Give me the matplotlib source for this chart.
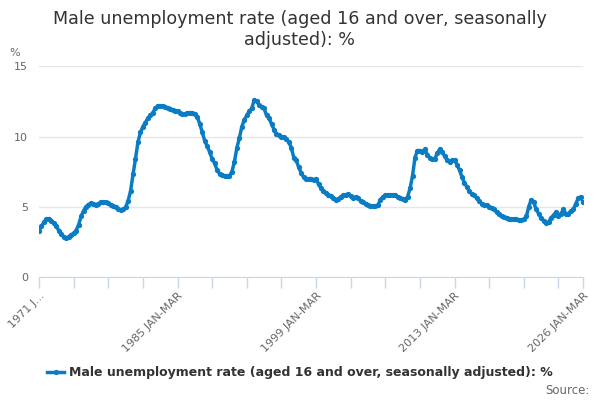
'''Male unemployment rate (aged 16 and over, seasonally adjusted), 1971-2026.'''

import numpy as np
import matplotlib
matplotlib.use('Agg')
import matplotlib.pyplot as plt

# Quarterly readings (JAN-MAR, APR-JUN, JUL-SEP, OCT-DEC), 1971 JAN-MAR .. 2026 JAN-MAR
rate = [
    3.3, 3.6, 3.9, 4.1,        # 1971
    4.15, 4.0, 3.8, 3.6,       # 1972
    3.3, 3.05, 2.85, 2.75,     # 1973
    2.85, 3.0, 3.1, 3.3,       # 1974
    3.7, 4.3, 4.7, 5.0,        # 1975
    5.15, 5.25, 5.2, 5.15,     # 1976
    5.2, 5.35, 5.35, 5.3,      # 1977
    5.25, 5.15, 5.05, 4.95,    # 1978
    4.85, 4.75, 4.8, 4.95,     # 1979
    5.4, 6.1, 7.3, 8.4,        # 1980
    9.6, 10.3, 10.7, 11.0,     # 1981
    11.3, 11.5, 11.7, 12.0,    # 1982
    12.2, 12.2, 12.15, 12.1,   # 1983
    12.0, 11.95, 11.9, 11.85,  # 1984
    11.8, 11.7, 11.6, 11.6,    # 1985
    11.7, 11.7, 11.7, 11.6,    # 1986
    11.4, 10.9, 10.3, 9.7,     # 1987
    9.3, 8.9, 8.4, 8.1,        # 1988
    7.6, 7.35, 7.25, 7.2,      # 1989
    7.2, 7.2, 7.5, 8.2,        # 1990
    9.2, 9.9, 10.7, 11.2,      # 1991
    11.5, 11.8, 12.0, 12.6,    # 1992
    12.5, 12.25, 12.1, 12.0,   # 1993
    11.5, 11.3, 10.9, 10.5,    # 1994
    10.2, 10.1, 10.0, 9.95,    # 1995
    9.8, 9.6, 9.2, 8.5,        # 1996
    8.3, 7.8, 7.4, 7.1,        # 1997
    7.0, 7.0, 7.0, 6.9,        # 1998
    7.0, 6.6, 6.3, 6.1,        # 1999
    6.0, 5.85, 5.75, 5.6,      # 2000
    5.5, 5.55, 5.7, 5.8,       # 2001
    5.85, 5.9, 5.75, 5.6,      # 2002
    5.7, 5.6, 5.4, 5.3,        # 2003
    5.2, 5.1, 5.05, 5.05,      # 2004
    5.05, 5.1, 5.5, 5.7,       # 2005
    5.8, 5.85, 5.85, 5.85,     # 2006
    5.85, 5.7, 5.65, 5.55,     # 2007
    5.5, 5.7, 6.3, 7.2,        # 2008
    8.5, 9.0, 9.0, 8.9,        # 2009
    9.1, 8.7, 8.5, 8.4,        # 2010
    8.4, 8.8, 9.1, 8.9,        # 2011
    8.6, 8.3, 8.2, 8.3,        # 2012
    8.3, 8.0, 7.6, 7.1,        # 2013
    6.7, 6.4, 6.1, 5.9,        # 2014
    5.8, 5.6, 5.4, 5.2,        # 2015
    5.15, 5.1, 5.0, 4.9,       # 2016
    4.8, 4.6, 4.45, 4.3,       # 2017
    4.25, 4.2, 4.15, 4.1,      # 2018
    4.1, 4.1, 4.05, 4.05,      # 2019
    4.1, 4.3, 5.0, 5.5,        # 2020
    5.3, 4.8, 4.5, 4.2,        # 2021
    4.0, 3.85, 3.9, 4.2,       # 2022
    4.4, 4.6, 4.3, 4.5,        # 2023
    4.8, 4.5, 4.5, 4.7,        # 2024
    4.8, 5.2, 5.6, 5.7,        # 2025
    5.3,                       # 2026
]

# Tick labels on the monthly (rolling quarter) category axis
tick_labels = ['1971 J...', '1985 JAN-MAR', '1999 JAN-MAR', '2013 JAN-MAR', '2026 JAN-MAR']
label_months = [0, 168, 336, 504, 660]
y_ticks = [0, 5, 10, 15]

title = 'Male unemployment rate (aged 16 and over, seasonally\nadjusted): %'
series_name = 'Male unemployment rate (aged 16 and over, seasonally adjusted): %'

#----------------------------------------------------------------------
def show_chart():
    """Draw the chart and save it as out.png"""

    plt.rcParams['font.family'] = ['DejaVu Sans']
    blue = '#0a7cc4'
    axis_col = '#ccd6eb'
    text_col = '#666666'

    fig = plt.figure(figsize=(6, 4), dpi=100)
    ax = fig.add_axes([0.065, 0.308, 0.907, 0.526])

    months = np.arange(len(rate)) * 3      # position on the monthly axis
    line, = ax.plot(months, rate, '-o', color=blue, lw=2.5, ms=3.8,
                    mew=0, label=series_name)

    ax.set_xlim(0, 660)
    ax.set_ylim(0, 15)
    ax.set_yticks(y_ticks)
    ax.grid(axis='y', color='#e6e6e6', lw=1)
    ax.set_axisbelow(True)

    # ticks every 42 months, plus the last category
    all_ticks = list(range(0, 660, 42)) + [660]
    ax.set_xticks(all_ticks)
    ax.set_xticklabels([tick_labels[label_months.index(t)] if t in label_months else ''
                        for t in all_ticks],
                       rotation=45, ha='right', va='top', rotation_mode='anchor',
                       fontsize=8, color=text_col)
    ax.tick_params(axis='x', length=8, width=1, color=axis_col, pad=2)
    ax.tick_params(axis='y', length=0, labelsize=8, labelcolor=text_col, pad=8)

    for side in ['top', 'right', 'left']:
        ax.spines[side].set_visible(False)
    ax.spines['bottom'].set_color(axis_col)

    fig.text(0.5, 0.975, title, ha='center', va='top', fontsize=12.6,
             color='#333333', linespacing=1.18)
    fig.text(0.015, 0.868, '%', fontsize=8, color=text_col, ha='left', va='center')

    leg = fig.legend(handles=[line], loc='center', bbox_to_anchor=(0.5, 0.068),
                     frameon=False, handlelength=1.4, handletextpad=0.4,
                     prop={'weight': 'bold', 'size': 9})
    for txt in leg.get_texts():
        txt.set_color('#333333')
    fig.text(0.982, 0.025, 'Source:', ha='right', va='center', fontsize=8.5, color=text_col)

    fig.savefig('out.png', dpi=100)

# -----------------------------------------------------------------------------------
if __name__ == '__main__':
    show_chart()
